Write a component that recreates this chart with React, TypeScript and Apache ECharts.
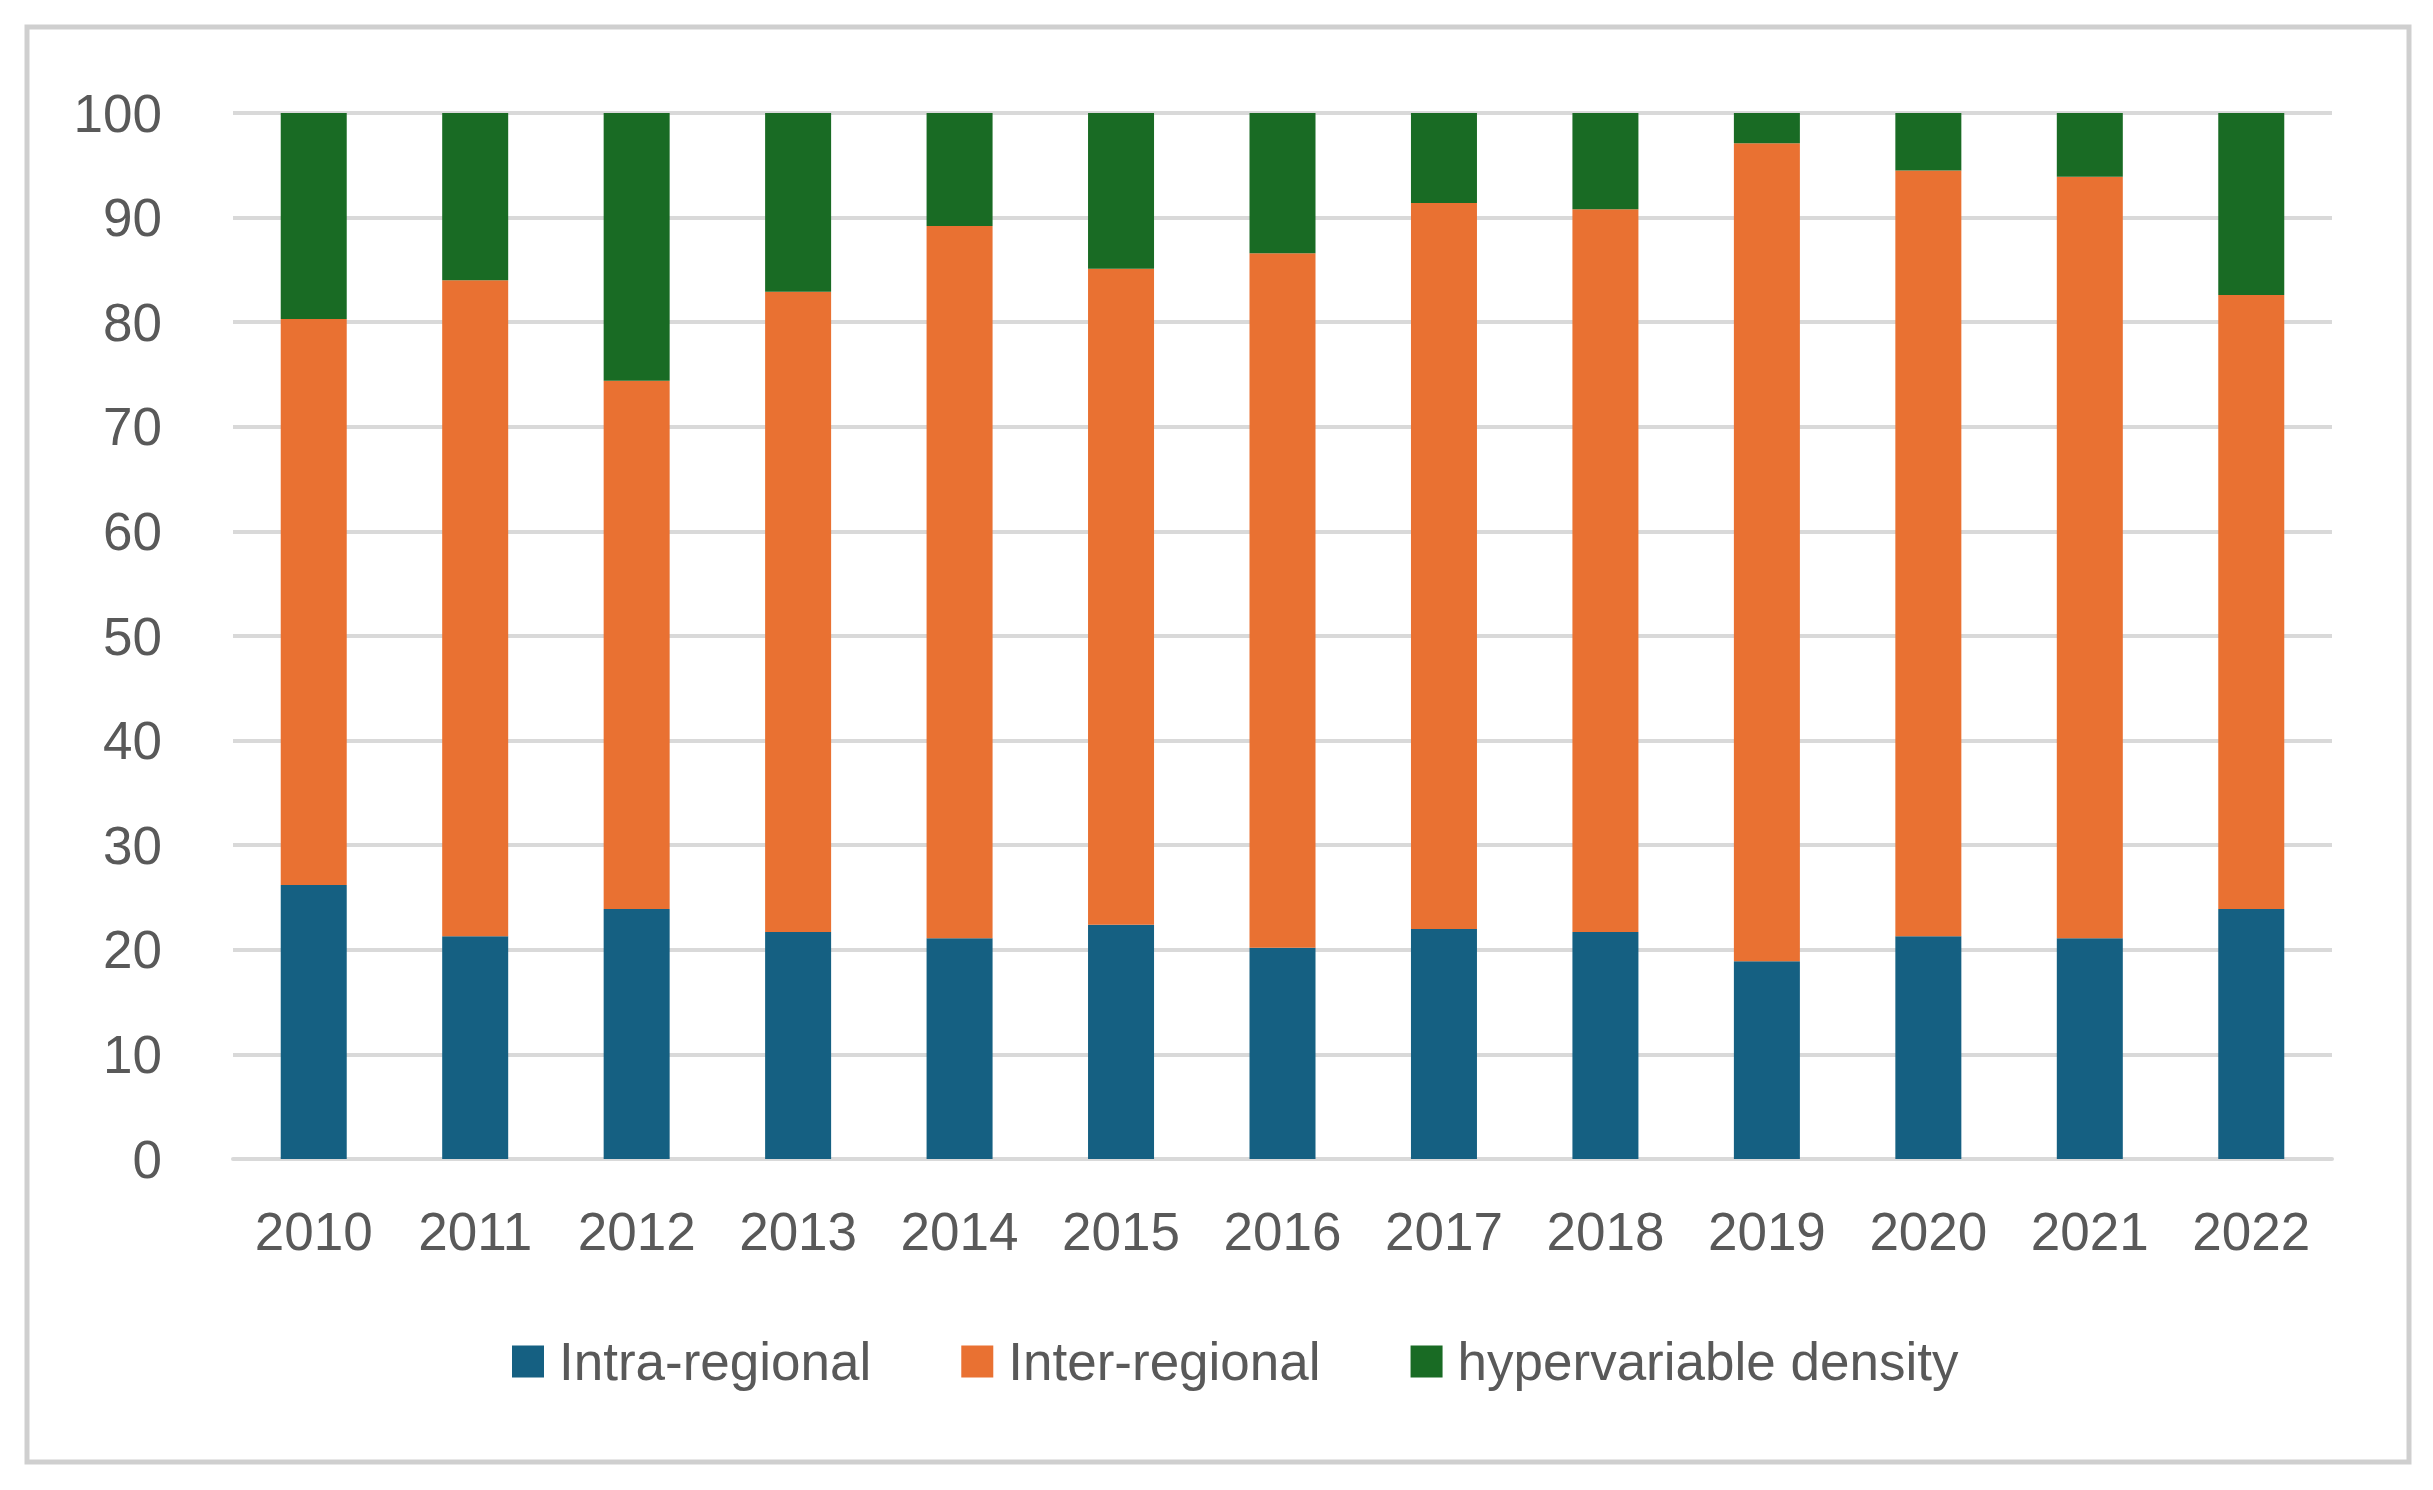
import React, { useEffect, useRef } from "react";
import * as echarts from "echarts";

const years = ["2010", "2011", "2012", "2013", "2014", "2015", "2016", "2017", "2018", "2019", "2020", "2021", "2022"];
const intraRegional = [26.2, 21.3, 23.9, 21.7, 21.1, 22.4, 20.2, 22.0, 21.7, 18.9, 21.3, 21.1, 23.9];
const interRegional = [54.1, 62.7, 50.5, 61.2, 68.1, 62.7, 66.4, 69.4, 69.1, 78.2, 73.2, 72.8, 58.7];
const hypervariableDensity = [19.7, 16.0, 25.6, 17.1, 10.8, 14.9, 13.4, 8.6, 9.2, 2.9, 5.5, 6.1, 17.4];
const seriesNames = ["Intra-regional", "Inter-regional", "hypervariable density"];
const seriesColors = ["#156082", "#E97132", "#196B24"];

const FONT = "'Liberation Sans', Arial, sans-serif";

export default function App() {
  const ref = useRef<HTMLDivElement>(null);
  useEffect(() => {
    if (!ref.current) return;
    const chart = echarts.init(ref.current, null, { renderer: "svg" });
    const data = [intraRegional, interRegional, hypervariableDensity];
    chart.setOption({
      animation: false,
      backgroundColor: "#ffffff",
      textStyle: { fontFamily: FONT },
      graphic: [
        {
          type: "rect",
          shape: { x: 27, y: 27, width: 2382, height: 1435 },
          style: { fill: "none", stroke: "#cfcfcf", lineWidth: 5 },
          silent: true,
        },
      ],
      grid: { left: 233, right: 101, top: 113, bottom: 331, containLabel: false },
      legend: {
        data: seriesNames,
        left: 507,
        top: 1330,
        itemWidth: 32,
        itemHeight: 32,
        itemGap: 90,
        icon: "rect",
        textStyle: { fontSize: 53, color: "#595959", fontFamily: FONT, padding: [0, 0, 0, 10] },
      },
      xAxis: {
        type: "category",
        data: years,
        axisLine: { show: true, lineStyle: { color: "#d9d9d9", width: 4 } },
        axisTick: { show: false },
        axisLabel: { fontSize: 53, color: "#595959", margin: 46, fontFamily: FONT },
      },
      yAxis: {
        type: "value",
        min: 0,
        max: 100,
        interval: 10,
        axisLine: { show: false },
        axisTick: { show: false },
        splitLine: { show: true, lineStyle: { color: "#d9d9d9", width: 4 } },
        axisLabel: { fontSize: 53, color: "#595959", margin: 71, fontFamily: FONT },
      },
      series: seriesNames.map((name, i) => ({
        name,
        type: "bar",
        stack: "total",
        barWidth: 66,
        data: data[i],
        itemStyle: { color: seriesColors[i] },
      })),
    });
    return () => chart.dispose();
  }, []);
  return (
    <div
      ref={ref}
      style={{ position: "fixed", left: 0, top: 0, width: 2433, height: 1490, background: "#fff" }}
    />
  );
}
